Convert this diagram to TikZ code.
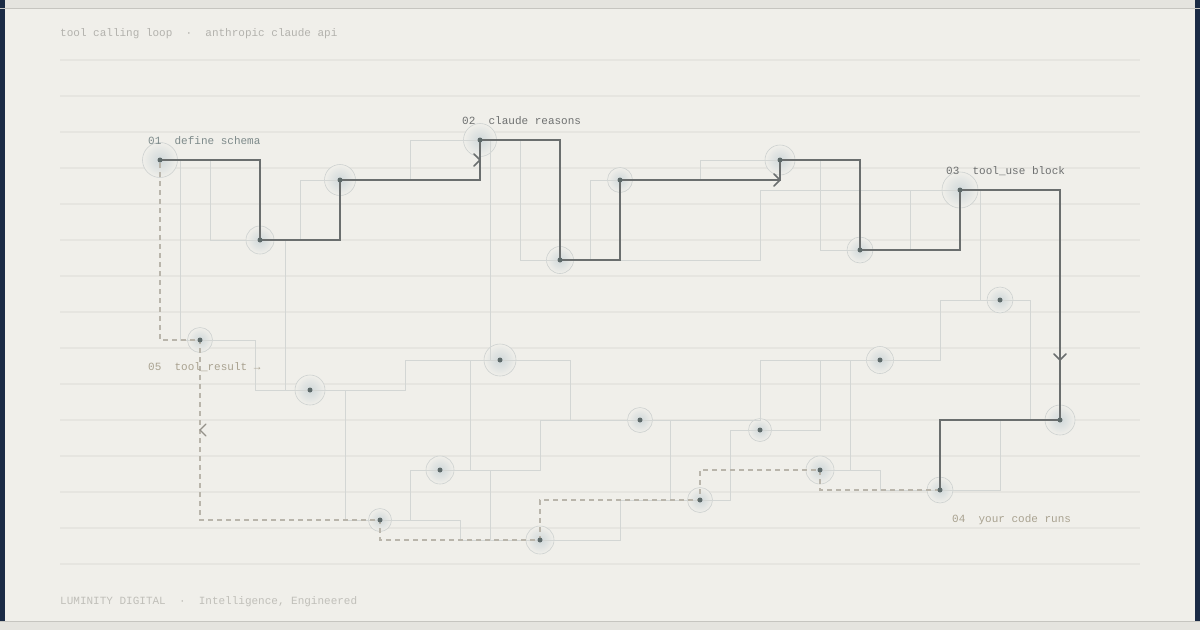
\documentclass[tikz,border=0pt]{standalone}
\usepackage{fontspec}
\newfontfamily\lblfont{Liberation Mono}
\definecolor{bgc}{HTML}{F0EFEA}
\definecolor{bandc}{HTML}{E5E4DF}
\definecolor{edgec}{HTML}{C6C5C0}
\definecolor{navy}{HTML}{1B2B45}
\definecolor{stripec}{HTML}{E6E5E0}
\definecolor{faintc}{HTML}{D3D6D4}
\definecolor{mainc}{HTML}{6A6E6E}
\definecolor{dashc}{HTML}{B9B5AB}
\definecolor{ringc}{HTML}{CDD1D0}
\definecolor{hubin}{HTML}{D0D8DA}
\definecolor{dotc}{HTML}{5E6A6A}
\definecolor{tone}{HTML}{7D8A8A}
\definecolor{ttwo}{HTML}{6E7070}
\definecolor{ttan}{HTML}{A9A290}
\definecolor{thead}{HTML}{B3B2AD}
\definecolor{tfoot}{HTML}{C0BFB9}
\begin{document}
\begin{tikzpicture}[x=1pt,y=-1pt,
  faint/.style={draw=faintc, line width=0.9pt},
  mainln/.style={draw=mainc, line width=2pt, line join=miter},
  dashln/.style={draw=dashc, line width=1.4pt, dash pattern=on 5pt off 4pt},
  hub/.style={circle, inner sep=0pt, minimum size=#1, draw=ringc, line width=0.6pt, inner color=hubin, outer color=bgc},
  lbl/.style={font=\lblfont\fontsize{11}{13}\selectfont, anchor=base west, inner sep=0pt},
  chev/.style={draw=mainc, line width=1.5pt, line cap=round, line join=round},
  chevd/.style={draw=dashc!80!black, line width=1.2pt, line cap=round, line join=round},
  stripe/.style={draw=stripec, line width=2.6pt}
]
\useasboundingbox (0,0) rectangle (1200,630);
% background
\fill[bgc] (0,0) rectangle (1200,630);
\fill[navy] (0,0) rectangle (5,622);
\fill[navy] (1195,0) rectangle (1200,622);
\fill[bandc] (5,0) rectangle (1195,8);
\fill[bandc] (0,622) rectangle (1200,630);
\draw[edgec, line width=1pt] (0,8.5) -- (1200,8.5);
\draw[edgec, line width=1pt] (0,621.5) -- (1200,621.5);
% stripes
\foreach \yy in {60,96,...,564} { \draw[stripe] (60,\yy) -- (1140,\yy); }
% hubs
\node[hub=35] (n1) at (160,160) {};
\node[hub=28] (n2) at (260,240) {};
\node[hub=31] (n3) at (340,180) {};
\node[hub=33] (n4) at (480,140) {};
\node[hub=27] (n5) at (560,260) {};
\node[hub=25] (n6) at (620,180) {};
\node[hub=30] (n7) at (780,160) {};
\node[hub=26] (n8) at (860,250) {};
\node[hub=36] (n9) at (960,190) {};
\node[hub=30] (n10) at (1060,420) {};
\node[hub=26] (n11) at (940,490) {};
\node[hub=28] (n12) at (820,470) {};
\node[hub=25] (n13) at (700,500) {};
\node[hub=28] (n14) at (540,540) {};
\node[hub=23] (n15) at (380,520) {};
\node[hub=25] (n16) at (200,340) {};
\node[hub=30] (n17) at (310,390) {};
\node[hub=32] (n18) at (500,360) {};
\node[hub=26] (n19) at (1000,300) {};
\node[hub=27] (n20) at (880,360) {};
\node[hub=23] (n21) at (760,430) {};
\node[hub=25] (n22) at (640,420) {};
\node[hub=28] (n23) at (440,470) {};
% faint circuit
\draw[faint] (n1.center) -- ++(20,0) |- (n16.center);
\draw[faint] (n1.center) -- ++(50,0) |- (n2.center);
\draw[faint] (n2.center) -- ++(25,0) |- (n17.center);
\draw[faint] (n2.center) -- ++(40,0) |- (n3.center);
\draw[faint] (n3.center) -- ++(70,0) |- (n4.center);
\draw[faint] (n4.center) -- ++(10,0) |- (n18.center);
\draw[faint] (n4.center) -- ++(40,0) |- (n5.center);
\draw[faint] (n5.center) -- ++(30,0) |- (n6.center);
\draw[faint] (n5.center) -- ++(200,0) |- (n9.center);
\draw[faint] (n6.center) -- ++(80,0) |- (n7.center);
\draw[faint] (n7.center) -- ++(40,0) |- (n8.center);
\draw[faint] (n8.center) -- ++(50,0) |- (n9.center);
\draw[faint] (n9.center) -- ++(20,0) |- (n19.center);
\draw[faint] (n19.center) -- ++(-60,0) |- (n20.center);
\draw[faint] (n19.center) -- ++(30,0) |- (n10.center);
\draw[faint] (n11.center) -- ++(60,0) |- (n10.center);
\draw[faint] (n12.center) -- ++(60,0) |- (n11.center);
\draw[faint] (n12.center) -- ++(30,0) |- (n20.center);
\draw[faint] (n21.center) -- ++(60,0) |- (n20.center);
\draw[faint] (n22.center) -- ++(120,0) |- (n20.center);
\draw[faint] (n13.center) -- ++(30,0) |- (n21.center);
\draw[faint] (n18.center) -- ++(70,0) |- (n22.center);
\draw[faint] (n22.center) -- ++(30,0) |- (n13.center);
\draw[faint] (n22.center) -- ++(-100,0) |- (n23.center);
\draw[faint] (n18.center) -- ++(-30,0) |- (n23.center);
\draw[faint] (n23.center) -- ++(50,0) |- (n14.center);
\draw[faint] (n15.center) -- ++(30,0) |- (n23.center);
\draw[faint] (n15.center) -- ++(80,0) |- (n14.center);
\draw[faint] (n14.center) -- ++(80,0) |- (n13.center);
\draw[faint] (n17.center) -- ++(35,0) |- (n15.center);
\draw[faint] (n17.center) -- ++(95,0) |- (n18.center);
\draw[faint] (n16.center) -- ++(55,0) |- (n17.center);
% dashed return path
\draw[dashln] (n11.center) -| (n12.center) -| (n13.center) -| (n14.center)
  -| (n15.center) -| (n16.center) -| (n1.center);
% main path
\draw[mainln] (n1.center) -| (n2.center) -| (n3.center) -| (n4.center)
  -| (n5.center) -| (n6.center) -| (n7.center) -| (n8.center)
  -| (n9.center) -| (n10.center) -| (n11.center);
% chevrons
\draw[chev] (474,154) -- (480,160) -- (474,166);
\draw[chev] (774,174) -- (780,180) -- (774,186);
\draw[chev] (1054,354) -- (1060,360) -- (1066,354);
\draw[chevd] (206,424) -- (200,430) -- (206,436);
% dots
\foreach \nn in {n1,n2,n3,n4,n5,n6,n7,n8,n9,n10,n11,n12,n13,n14,n15,n16,n17,n18,n19,n20,n21,n22,n23}
  { \fill[dotc] (\nn.center) circle (2.5); }
% labels
\node[lbl, text=tone] (l1) at (148,144) {01\ \ define schema};
\node[lbl, text=ttwo] (l2) at (462,124) {02\ \ claude reasons};
\node[lbl, text=ttwo] (l3) at (946,174) {03\ \ tool\_use block};
\node[lbl, text=ttan] (l4) at (952,522) {04\ \ your code runs};
\node[lbl, text=ttan] (l5) at (148,370) {05\ \ tool\_result →};
\node[lbl, text=thead] (hd) at (60,36) {tool calling loop\ \ ·\ \ anthropic claude api};
\node[lbl, text=tfoot] (ft) at (60,604) {LUMINITY DIGITAL\ \ ·\ \ Intelligence, Engineered};
\end{tikzpicture}
\end{document}
